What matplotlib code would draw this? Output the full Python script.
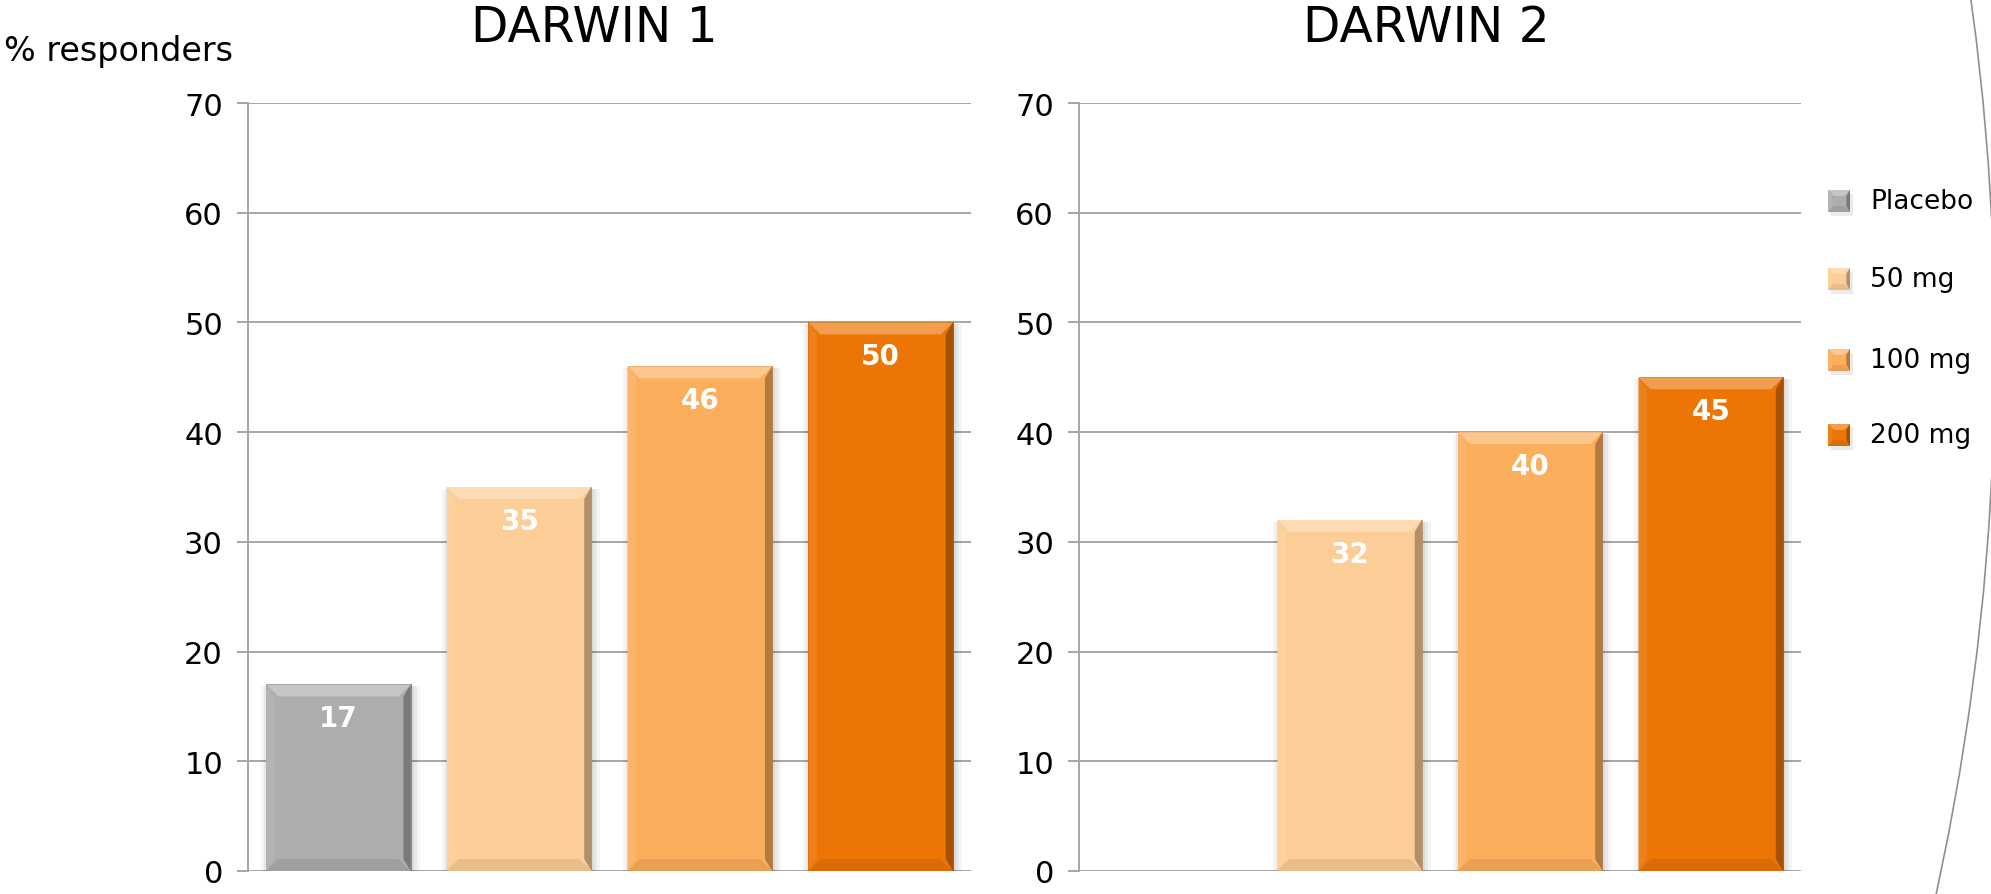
import numpy as np
import matplotlib
matplotlib.use("Agg")
import matplotlib.pyplot as plt
from matplotlib.patches import Polygon, Rectangle, Arc
from matplotlib.colors import to_rgb

# DARWIN trial response rates (% responders) by dose
doses = ['Placebo', '50 mg', '100 mg', '200 mg']
darwin1 = [17, 35, 46, 50]
darwin2 = [np.nan, 32, 40, 45]
titles = ['DARWIN 1', 'DARWIN 2']
dose_colors = ['#adadad', '#fccd96', '#fbae5c', '#ec7506']
yticks = [0, 10, 20, 30, 40, 50, 60, 70]

W, H, DPI = 1991, 895, 100
GRID = '#a6a6a6'


def mix(c, other, f):
    c, o = np.array(to_rgb(c)), np.array(to_rgb(other))
    return tuple(c * (1 - f) + o * f)


def bevel_px(target, x0, y0, x1, y1, color, t=11, to_data=None, zorder=3):
    """Flat bevel (lit top/left, shaded right/bottom) on a box given in pixels."""
    faces = [
        ([(x0, y1), (x1, y1), (x1 - t, y1 - t), (x0 + t, y1 - t)], mix(color, 'white', 0.3)),
        ([(x0, y1), (x0 + t * 0.7, y1 - t), (x0 + t * 0.7, y0 + t), (x0, y0)], mix(color, 'white', 0.08)),
        ([(x1, y1), (x1, y0), (x1 - t * 0.6, y0 + t), (x1 - t * 0.6, y1 - t)], mix(color, 'black', 0.3)),
        ([(x0, y0), (x1, y0), (x1 - t, y0 + t), (x0 + t, y0 + t)], mix(color, 'black', 0.08)),
    ]
    for pts, fc in faces:
        pts = np.array(pts, dtype=float)
        if to_data is not None:
            pts = to_data.transform(pts)
            target.add_patch(Polygon(pts, closed=True, fc=fc, ec='none', zorder=zorder))
        else:
            target.add_artist(Polygon(pts / [W, H], closed=True, fc=fc, ec='none',
                                      transform=target.transFigure, zorder=zorder))


fig = plt.figure(figsize=(W / DPI, H / DPI), dpi=DPI)
plt.rcParams['font.family'] = ['DejaVu Sans']

axes_boxes = [(248, 971), (1079, 1801)]
y_top, y_bot = 104, 872
title_x = [594, 1426]

for k, (vals, (xa, xb)) in enumerate(zip([darwin1, darwin2], axes_boxes)):
    ax = fig.add_axes([xa / W, 1 - y_bot / H, (xb - xa) / W, (y_bot - y_top) / H])
    x = np.arange(len(doses))
    ax.set_xlim(-0.5, len(doses) - 0.5)
    ax.set_ylim(0, 70)
    ax.set_yticks(yticks)
    ax.set_xticks([])
    for s in ['top', 'right', 'bottom']:
        ax.spines[s].set_visible(False)
    ax.spines['left'].set_color(GRID)
    ax.spines['left'].set_linewidth(1.4)
    ax.tick_params(axis='y', length=8, width=1.4, color=GRID, labelsize=22, pad=10)
    ax.yaxis.grid(True, color=GRID, linewidth=1.4)
    ax.set_axisbelow(True)

    to_data = ax.transData.inverted()
    for i, v in enumerate(vals):
        if np.isnan(v):
            continue
        bar = ax.bar(x[i], v, width=0.8, color=dose_colors[i], zorder=3,
                     edgecolor=mix(dose_colors[i], 'black', 0.3), linewidth=0.6)[0]
        (px0, py0), (px1, py1) = ax.transData.transform(
            [(bar.get_x(), bar.get_y()), (bar.get_x() + bar.get_width(), bar.get_height())])
        # soft drop shadow
        for j, a in enumerate([0.06, 0.05, 0.04]):
            d = 3 + 3 * j
            sh = to_data.transform([(px0 - d + 4, py0), (px1 + d, py1 - 2)])
            ax.add_patch(Rectangle(sh[0], sh[1][0] - sh[0][0], sh[1][1] - sh[0][1],
                                   fc='black', alpha=a, ec='none', zorder=2))
        bevel_px(ax, px0, py0, px1, py1, dose_colors[i], t=12, to_data=to_data)
        ax.annotate(f'{v:g}', (x[i], v), xytext=(0, -34), textcoords='offset pixels',
                    ha='center', va='center', color='white', fontsize=20,
                    fontweight='bold', zorder=5)

    fig.text(title_x[k] / W, 1 - 28 / H, titles[k], ha='center', va='center', fontsize=35)

fig.text(4 / W, 1 - 51 / H, '% responders', ha='left', va='center', fontsize=24)

# legend: beveled swatches with labels
legend_y = [202, 280, 361, 436]
for c, lab, ly in zip(dose_colors, doses, legend_y):
    yb = H - ly
    fig.add_artist(Rectangle(((1828 + 3) / W, (yb - 11 - 4) / H), 22 / W, 22 / H,
                             transform=fig.transFigure, fc='black', alpha=0.08, ec='none'))
    fig.add_artist(Rectangle((1828 / W, (yb - 11) / H), 22 / W, 22 / H,
                             transform=fig.transFigure, fc=c, ec='none'))
    bevel_px(fig, 1828, yb - 11, 1850, yb + 11, c, t=6, zorder=4)
    fig.text(1870 / W, yb / H, lab, ha='left', va='center', fontsize=19)

# thin curved accent line at the right edge
fig.add_artist(Arc((-5.57, 5.45), 2 * 25.52, 2 * 25.52, theta1=-13, theta2=9,
                   transform=fig.dpi_scale_trans, color='#8f8f8f', lw=1.2))

fig.savefig('out.png', dpi=DPI, facecolor='white')
